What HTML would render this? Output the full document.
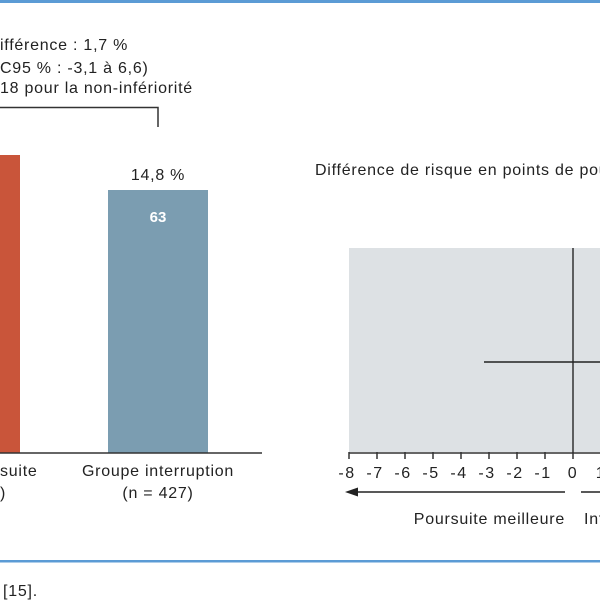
<!DOCTYPE html>
<html><head><meta charset="utf-8"><style>
html,body{margin:0;padding:0;background:#fff;}
svg{display:block;font-family:"Liberation Sans",sans-serif;}
</style></head><body>
<svg width="600" height="600" viewBox="0 0 600 600">
<rect x="0" y="0" width="600" height="3" fill="#5b9bd5"/>
<rect x="0" y="560" width="600" height="2.5" fill="#5b9bd5"/>
<g font-size="16" fill="#222" letter-spacing="0.75">
<text x="0" y="50" text-anchor="end">D</text><text x="0" y="50">ifférence : 1,7 %</text>
<text x="0" y="73" text-anchor="end">(I</text><text x="0" y="73">C95 % : -3,1 à 6,6)</text>
<text x="0" y="93" text-anchor="end">p = 0,0</text><text x="0" y="93">18 pour la non-infériorité</text>
</g>
<path d="M0 107.5 H158 V127" stroke="#333" stroke-width="1.5" fill="none"/>
<rect x="0" y="155" width="20" height="298" fill="#c9553a"/>
<rect x="108" y="190" width="100" height="263" fill="#7b9db1"/>
<text x="158" y="180" font-size="16" letter-spacing="0.75" text-anchor="middle" fill="#222">14,8 %</text>
<text x="158" y="222" font-size="15" font-weight="bold" text-anchor="middle" fill="#fff">63</text>
<line x1="0" y1="453" x2="262" y2="453" stroke="#333" stroke-width="1.5"/>
<g font-size="16" fill="#222" letter-spacing="0.75">
<text x="0" y="476" text-anchor="end">Pour</text><text x="0" y="476">suite</text>
<text x="0" y="498" text-anchor="end">(n = 429</text><text x="0" y="498">)</text>
<text x="158" y="476" text-anchor="middle">Groupe interruption</text>
<text x="158" y="498" text-anchor="middle">(n = 427)</text>
<text x="3" y="596">[15].</text>
<text x="315" y="175">Différence de risque en points de pourcentage</text>
</g>
<rect x="349" y="248" width="251" height="204" fill="#dde1e4"/>
<line x1="573" y1="248" x2="573" y2="453" stroke="#333" stroke-width="1.5"/>
<line x1="484" y1="362" x2="600" y2="362" stroke="#222" stroke-width="1.5"/>
<line x1="349" y1="453" x2="600" y2="453" stroke="#333" stroke-width="1.5"/>
<g stroke="#333" stroke-width="1.5">
<line x1="349" y1="452" x2="349" y2="459"/><line x1="377" y1="452" x2="377" y2="459"/>
<line x1="405" y1="452" x2="405" y2="459"/><line x1="433" y1="452" x2="433" y2="459"/>
<line x1="461" y1="452" x2="461" y2="459"/><line x1="489" y1="452" x2="489" y2="459"/>
<line x1="517" y1="452" x2="517" y2="459"/><line x1="545" y1="452" x2="545" y2="459"/>
<line x1="573" y1="452" x2="573" y2="459"/><line x1="601" y1="452" x2="601" y2="459"/>
</g>
<g font-size="16" fill="#222" text-anchor="middle" letter-spacing="1.5">
<text x="347" y="478">-8</text><text x="375" y="478">-7</text><text x="403" y="478">-6</text>
<text x="431" y="478">-5</text><text x="459" y="478">-4</text><text x="487" y="478">-3</text>
<text x="515" y="478">-2</text><text x="543" y="478">-1</text><text x="573" y="478">0</text>
<text x="601" y="478">1</text>
</g>
<line x1="355" y1="492" x2="565" y2="492" stroke="#222" stroke-width="1.5"/>
<polygon points="345,492 358,487.5 358,496.5" fill="#222"/>
<line x1="581" y1="492" x2="600" y2="492" stroke="#222" stroke-width="1.5"/>
<g font-size="16" fill="#222" letter-spacing="0.75">
<text x="565" y="524" text-anchor="end">Poursuite meilleure</text>
<text x="584" y="524">Interruption meilleure</text>
</g>
</svg>
</body></html>
